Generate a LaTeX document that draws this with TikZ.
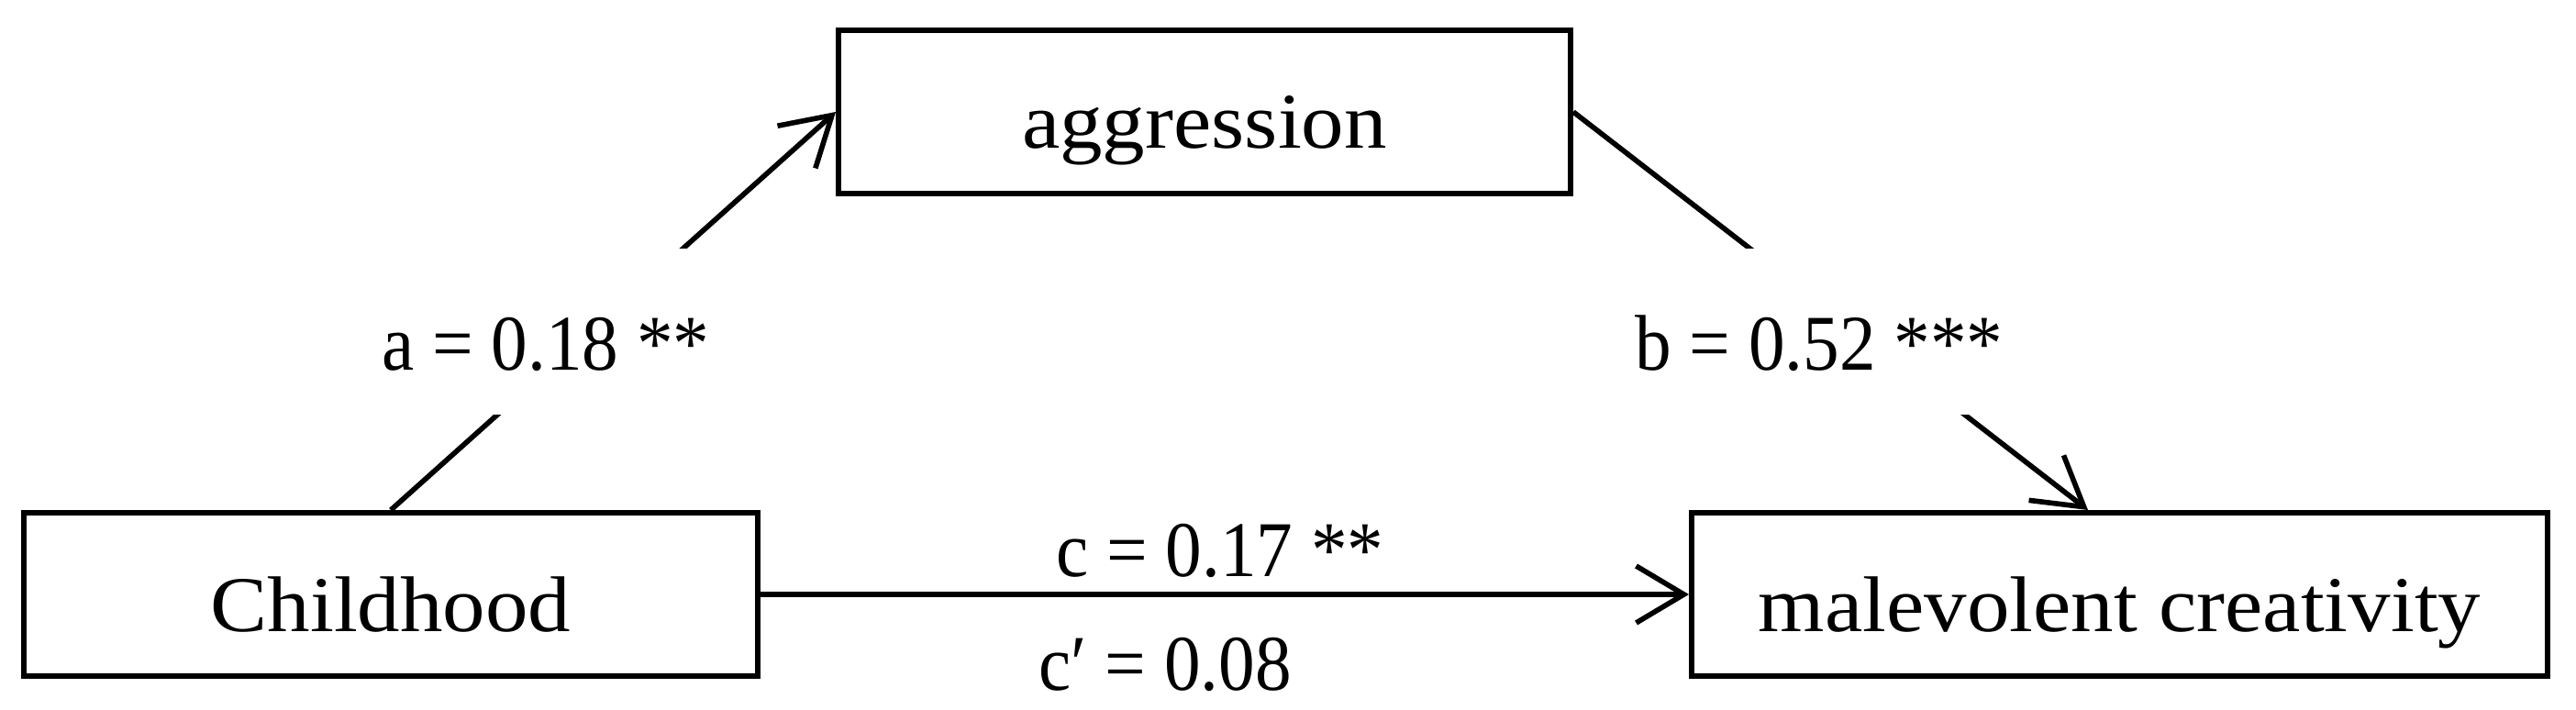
\documentclass[tikz,border=0pt]{standalone}
\usepackage{fontspec}
\setmainfont{Liberation Serif}[FakeStretch=1.08]
\newfontfamily\lblfont{Liberation Serif}[FakeStretch=0.92]
\usetikzlibrary{arrows.meta,calc}
\begin{document}
\begin{tikzpicture}[
  every node/.style={font=\fontsize{24.5}{29}\selectfont},
  box/.style={draw, line width=1.7pt, inner sep=0pt, minimum height=1.78cm,
              text height=0.8cm, text depth=0cm},
  conn/.style={line width=1.6pt, -{Straight Barb[length=0.52cm, width=0.62cm, line width=1.6pt]}},
  gaplabel/.style={fill=white, inner sep=0pt, anchor=base, minimum width=3.9cm,
                   text height=1.32cm, text depth=0.49cm,
                   font=\fontsize{24.5}{29}\lblfont},
  plainlabel/.style={inner sep=0pt, anchor=base, font=\fontsize{24.5}{29}\lblfont}
]
\useasboundingbox (0,0) rectangle (28.08,7.73);
% boxes
\node[box, minimum width=8.0cm] (child) at (4.26,1.25) {Childhood};
\node[box, minimum width=7.98cm] (agg) at (13.13,6.51) {aggression};
\node[box, minimum width=9.33cm] (mal) at (23.105,1.25) {malevolent creativity};
% connectors
\draw[conn] (child.north) -- (agg.west);
\draw[conn] (agg.east) -- ([xshift=-0.345cm]mal.north);
\draw[conn] (child.east) -- (mal.west);
% labels
\node[gaplabel] (la) at (5.95,3.70) {a = 0.18 **};
\node[gaplabel] (lb) at (19.83,3.70) {b = 0.52 ***};
\node[plainlabel] (lc) at (13.30,1.45) {c = 0.17 **};
\node[plainlabel] (lcp) at (12.70,0.21) {c′ = 0.08};
\end{tikzpicture}
\end{document}
